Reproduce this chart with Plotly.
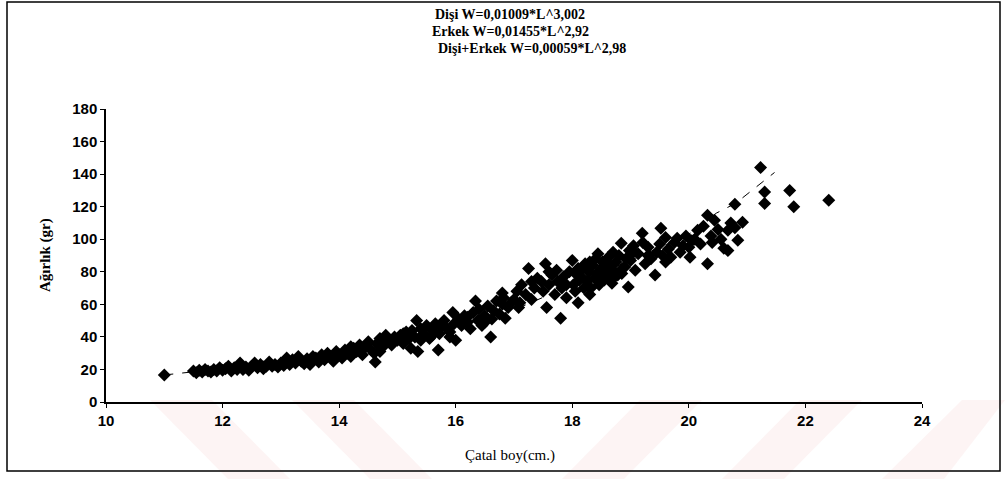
import plotly.graph_objects as go

# ---- data ----
boy = [
    11.0, 11.5, 11.55, 11.6, 11.65, 11.7, 11.75, 11.8, 11.85, 11.9, 11.95, 12.0,
    12.05, 12.1, 12.15, 12.2, 12.25, 12.3, 12.35, 12.4, 12.45, 12.5, 12.55, 12.6, 12.65, 12.7, 12.75, 12.8, 12.85, 12.9, 12.95,
    13.0, 13.05, 13.1, 13.15, 13.2, 13.25, 13.3, 13.35, 13.4, 13.45, 13.5, 13.55, 13.6, 13.65, 13.7, 13.75, 13.8, 13.85, 13.9, 13.95,
    14.0, 14.05, 14.1, 14.15, 14.2, 14.25, 14.3, 14.35, 14.4, 14.45, 14.5, 14.55, 14.6, 14.62, 14.65, 14.7, 14.75, 14.8, 14.85, 14.9, 14.95,
    15.0, 15.05, 15.1, 15.15, 15.2, 15.23, 15.25, 15.3, 15.33, 15.35, 15.4, 15.45, 15.5, 15.55, 15.6, 15.65, 15.7, 15.72, 15.75, 15.8, 15.85, 15.9, 15.95, 15.97, 16.0,
    16.05, 16.1, 16.15, 16.2, 16.25, 16.3, 16.34, 16.38, 16.4, 16.45, 16.5, 16.55, 16.6, 16.62, 16.65, 16.7, 16.75, 16.8, 16.82, 16.85, 16.9, 16.95,
    17.0, 17.05, 17.08, 17.13, 17.2, 17.25, 17.3, 17.35, 17.4, 17.47, 17.5, 17.54, 17.56, 17.6, 17.65, 17.7, 17.73, 17.75, 17.8, 17.82, 17.85, 17.9, 17.95,
    18.0, 18.02, 18.05, 18.08, 18.1, 18.12, 18.15, 18.18, 18.2, 18.22, 18.25, 18.28, 18.3, 18.32, 18.35, 18.38, 18.4, 18.42, 18.44, 18.46,
    18.5, 18.52, 18.55, 18.58, 18.6, 18.62, 18.65, 18.68, 18.7, 18.72, 18.75, 18.78, 18.8, 18.84, 18.86, 18.9, 18.92, 18.96, 18.98,
    19.0, 19.05, 19.08, 19.13, 19.2, 19.21, 19.25, 19.3, 19.35, 19.42, 19.45, 19.5, 19.52, 19.55, 19.6, 19.65, 19.69, 19.75, 19.8, 19.85, 19.9, 19.95, 20.0, 20.02,
    20.1, 20.15, 20.2, 20.25, 20.32, 20.32, 20.38, 20.44, 20.5, 20.55, 20.6, 20.67, 20.67, 20.72, 20.79, 20.79, 20.84, 20.92,
    21.23, 21.3, 21.3, 21.73, 21.8, 22.4,
    # extra points filling the dense parts of the cloud
    12.3, 12.7, 13.1, 13.5, 13.9, 14.2, 14.4, 14.7, 15.1, 15.4, 15.6, 15.9, 16.2, 16.5, 16.8,
    17.1, 17.3, 17.6, 17.9, 18.1, 18.3, 18.45, 18.55, 18.7, 18.85, 19.05, 19.3, 19.6, 20.05, 20.4,
]
agirlik = [
    16.6, 19, 18, 19.5, 18.5, 20, 19, 18.5, 20, 19, 21, 19.5,
    20.5, 22, 19, 21, 20, 22.5, 20, 21.5, 19.5, 22, 24, 21, 23, 20.5, 22, 24.5, 22, 23, 21.5,
    24, 22.5, 25, 23, 26, 24, 28, 25, 23.5, 26.5, 25, 28, 27, 24.5, 29, 26, 30, 28, 25, 31,
    29, 27, 32, 30, 28, 33, 31, 35, 29, 34, 37, 32, 30, 24.5, 36, 39, 34, 41, 37, 35, 40,
    38, 41, 36, 43, 39, 33, 44, 40, 50, 31, 45, 42, 47, 39, 44, 48, 32, 42, 46, 50, 45, 43, 55, 48, 38,
    51, 47, 53, 49, 45, 55, 62, 50, 57, 47, 53, 59, 40, 51, 56, 62, 54, 67, 64, 51.5, 58, 61,
    63, 68, 58, 72, 66, 82, 63, 70, 76, 74, 68, 85, 58, 72, 78, 66, 81, 74, 51.5, 70, 77, 64, 80,
    87, 72, 68, 78, 61, 75, 77, 82, 70, 85, 74, 80, 66, 70, 84, 76, 88, 79, 91, 72,
    82, 86, 75, 80, 77, 89, 84, 73, 92, 80, 86, 78, 90, 97.5, 82, 83, 88, 70.6, 93,
    87, 92, 81, 91, 103.7, 98, 85, 95, 88, 78, 92, 97, 106.7, 90, 86, 94, 89, 98, 100.6, 92, 96, 102, 95, 89,
    100, 105.5, 97, 108, 114.7, 85, 102, 111.7, 106, 100, 94.5, 105.5, 93, 110, 107, 121.5, 99.4, 110.4,
    144, 129, 122, 130, 120, 124,
    24, 21.5, 27, 23, 27, 34, 32, 31, 42, 38, 41, 40, 52, 49, 60,
    61, 74, 80, 72, 82, 86, 78, 84, 76, 79, 96, 90, 101, 99, 98,
]

# fitted curve
egri_boy = [11.0, 11.5, 12.0, 13.0, 14.0, 15.0, 16.0, 16.9, 17.9, 19.0, 20.0, 20.47, 20.8, 21.47]
egri_agirlik = [16.6, 18.4, 20.5, 25, 31, 38.5, 46.5, 55, 70.5, 87, 103, 116, 122, 141]

x_ticks = [10, 12, 14, 16, 18, 20, 22, 24]
y_ticks = [0, 20, 40, 60, 80, 100, 120, 140, 160, 180]

baslik = [
    "Dişi W=0,01009*L^3,002",
    "Erkek W=0,01455*L^2,92",
    "Dişi+Erkek W=0,00059*L^2,98",
]
x_baslik = "Çatal boy(cm.)"
y_baslik = "Ağırlık (gr)"

# ---- figure ----
W, H = 1005, 479
L, R, T, B = 106, 83, 109, 77
pw, ph = W - L - R, H - T - B


def px(x):
    return (x - L) / pw


def py(y):
    return (H - B - y) / ph


fig = go.Figure()
fig.add_trace(go.Scatter(
    x=egri_boy, y=egri_agirlik, mode="lines",
    line=dict(color="black", width=1, dash="dash"), hoverinfo="skip",
))
fig.add_trace(go.Scatter(
    x=boy, y=agirlik, mode="markers",
    marker=dict(symbol="diamond", size=10, color="black", line=dict(width=0)),
))

axis_common = dict(
    showline=True, linecolor="black", linewidth=1.5,
    ticks="outside", ticklen=4, tickcolor="black", tickwidth=1,
    showgrid=False, zeroline=False,
    tickfont=dict(family="Liberation Sans, Arial", size=15, color="black", weight="bold"),
)
fig.update_xaxes(range=[10, 24], tickvals=x_ticks, **axis_common)
fig.update_yaxes(range=[0, 180], tickvals=y_ticks, **axis_common)

title_font = dict(family="Liberation Serif, Times New Roman", size=14, color="black", weight="bold")
title_pos = [(433, 15), (430, 31), (436, 48)]
annotations = []
for txt, (tx, ty) in zip(baslik, title_pos):
    annotations.append(dict(
        text=txt, xref="paper", yref="paper", x=px(tx), y=py(ty),
        xanchor="left", yanchor="middle", showarrow=False, font=title_font,
    ))
annotations.append(dict(
    text=x_baslik, xref="paper", yref="paper", x=px(510), y=py(455),
    xanchor="center", yanchor="middle", showarrow=False,
    font=dict(family="Liberation Serif, Times New Roman", size=15, color="black"),
))
annotations.append(dict(
    text=y_baslik, xref="paper", yref="paper", x=px(45), y=py(255),
    xanchor="center", yanchor="middle", showarrow=False, textangle=-90,
    font=dict(family="Liberation Serif, Times New Roman", size=15, color="black", weight="bold"),
))

shapes = [
    # outer frame
    dict(type="rect", xref="paper", yref="paper",
         x0=px(7), x1=px(1000), y0=py(471), y1=py(2),
         line=dict(color="black", width=1.5), fillcolor="rgba(0,0,0,0)", layer="above"),
]
# faint watermark stripes at the bottom
stripe_color = "rgba(230,110,110,0.08)"
for (a, b, c, d) in [((150, 400), (212, 400), (290, 479), (228, 479)),
                     ((292, 400), (354, 400), (432, 479), (370, 479)),
                     ((640, 400), (702, 400), (624, 479), (562, 479)),
                     ((800, 400), (862, 400), (784, 479), (722, 479)),
                     ((962, 400), (1005, 400), (944, 479), (882, 479))]:
    path = "M {} {} L {} {} L {} {} L {} {} Z".format(
        px(a[0]), py(a[1]), px(b[0]), py(b[1]), px(c[0]), py(c[1]), px(d[0]), py(d[1]))
    shapes.append(dict(type="path", xref="paper", yref="paper", path=path,
                       fillcolor=stripe_color, line=dict(width=0), layer="below"))

fig.update_layout(
    width=W, height=H,
    margin=dict(l=L, r=R, t=T, b=B),
    paper_bgcolor="white", plot_bgcolor="white",
    showlegend=False,
    annotations=annotations,
    shapes=shapes,
)

fig.write_html("out.html")
